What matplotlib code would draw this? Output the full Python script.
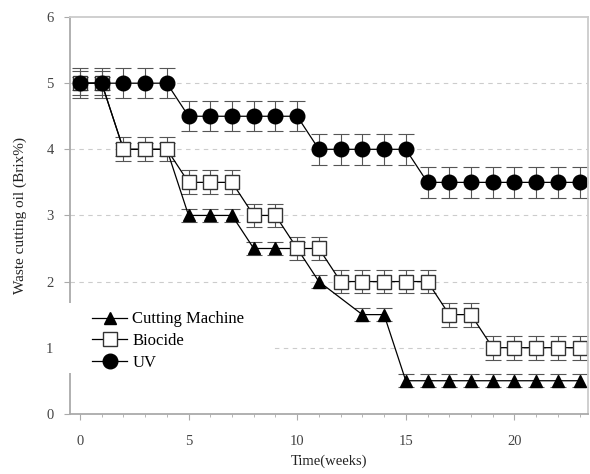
import numpy as np
import matplotlib
matplotlib.use("Agg")
import matplotlib.pyplot as plt
from matplotlib.ticker import MultipleLocator
from matplotlib.patches import Rectangle

plt.rcParams['font.family'] = ['Liberation Serif', 'DejaVu Serif']

# weeks / values
weeks_cut = [0, 1, 2, 3, 4, 5, 6, 7, 8, 9, 10, 11, 13, 14, 15, 16, 17, 18, 19, 20, 21, 22, 23]
cutting = [5, 5, 4, 4, 4, 3, 3, 3, 2.5, 2.5, 2.5, 2, 1.5, 1.5, 0.5, 0.5, 0.5, 0.5, 0.5, 0.5, 0.5, 0.5, 0.5]
cutting_err = 0.1

weeks = list(range(24))
biocide = [5, 5, 4, 4, 4, 3.5, 3.5, 3.5, 3, 3, 2.5, 2.5, 2, 2, 2, 2, 2, 1.5, 1.5, 1, 1, 1, 1, 1]
biocide_err = 0.18

uv = [5, 5, 5, 5, 5, 4.5, 4.5, 4.5, 4.5, 4.5, 4.5, 4, 4, 4, 4, 4, 3.5, 3.5, 3.5, 3.5, 3.5, 3.5, 3.5, 3.5]
uv_err = 0.23

fig = plt.figure(figsize=(5.9, 4.74), dpi=100)
ax = fig.add_axes([0.119, 0.127, 0.878, 0.837])

ebkw = dict(color='black', lw=0.9, elinewidth=0.8, ecolor='#555555', capsize=6, capthick=0.8)
c1 = ax.errorbar(weeks_cut, cutting, yerr=cutting_err, marker='^', ms=9, mfc='black', mec='black',
                 label='Cutting Machine', **ebkw)
c2 = ax.errorbar(weeks, biocide, yerr=biocide_err, marker='s', ms=9.5, mfc='white', mec='#333333',
                 label='Biocide', **ebkw)
c3 = ax.errorbar(weeks, uv, yerr=uv_err, marker='o', ms=10.5, mfc='black', mec='black',
                 label='UV', **ebkw)

ax.set_xlim(-0.45, 23.4)
ax.set_ylim(0, 6)
ax.xaxis.set_major_locator(MultipleLocator(5))
ax.xaxis.set_minor_locator(MultipleLocator(1))
ax.yaxis.set_major_locator(MultipleLocator(1))

for y in [1, 2, 3, 4, 5]:
    ax.axhline(y, color='#cccccc', lw=0.8, ls=(0, (4, 4)), zorder=0)

for s in ax.spines.values():
    s.set_color('#aaaaaa')
    s.set_linewidth(1.3)
ax.spines['top'].set_color('#cccccc')
ax.spines['right'].set_color('#cccccc')

ax.tick_params(axis='x', which='major', length=4, color='#aaaaaa', pad=11, labelsize=10.5, labelcolor='#444444')
ax.tick_params(axis='x', which='minor', length=2, color='#aaaaaa')
ax.tick_params(axis='y', length=4, color='#aaaaaa', labelsize=10.5, labelcolor='#444444', pad=8)

ax.set_xlabel('Time(weeks)', fontsize=10.5, color='#222222', labelpad=5)
ax.set_ylabel('Waste cutting oil (Brix%)', fontsize=11, color='#222222', labelpad=14)

# white box behind the legend, it hides the spine and grid there
ax.add_patch(Rectangle((-0.03, 0.103), 0.42, 0.177, transform=ax.transAxes,
                       facecolor='white', edgecolor='none', clip_on=False, zorder=3))

# legend shows line + marker only, no error bars
ax.legend(handles=[c1[0], c2[0], c3[0]], labels=['Cutting Machine', 'Biocide', 'UV'],
          loc='upper left', bbox_to_anchor=(0.03, 0.275), frameon=False, fontsize=12,
          handlelength=2.1, handletextpad=0.3, labelspacing=0.35, borderaxespad=0.0)

fig.savefig('out.png', dpi=100)
